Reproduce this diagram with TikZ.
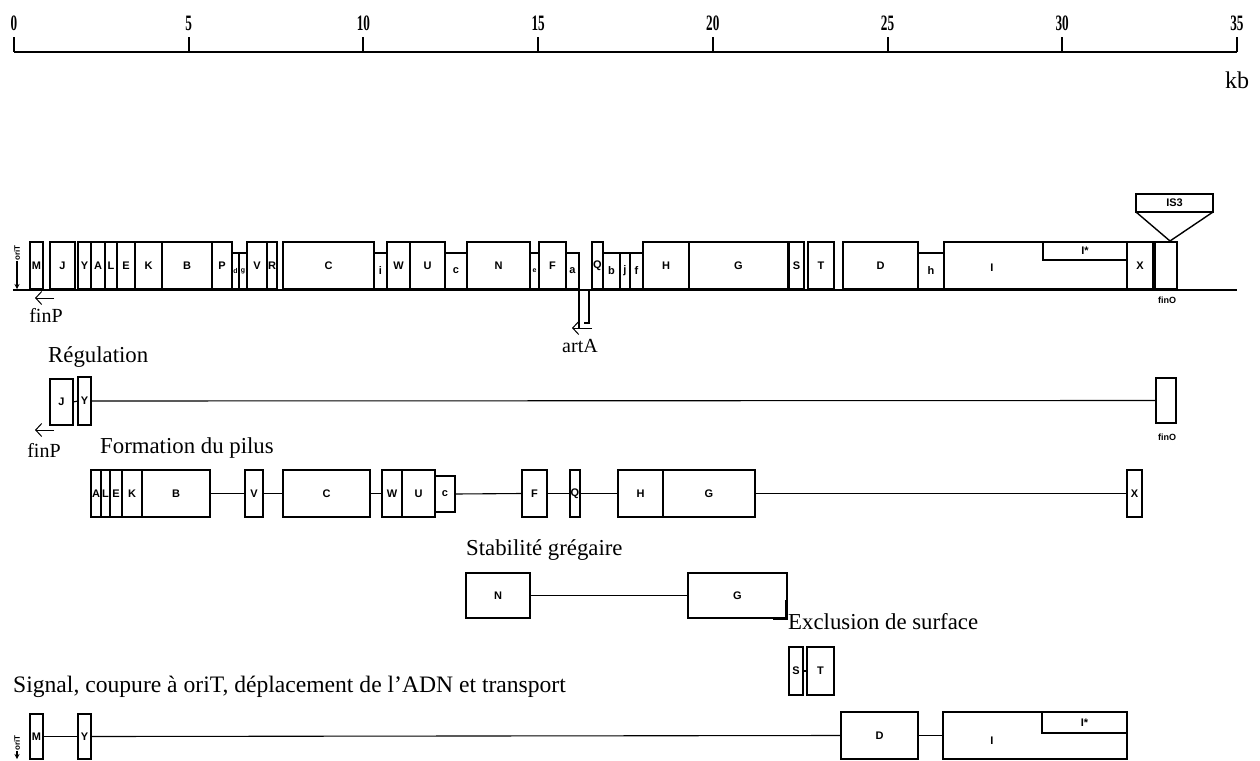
\documentclass[tikz,border=0pt]{standalone}
\usepackage{fontspec}
\setmainfont{Liberation Serif}
\newfontfamily\gfont{Liberation Sans}
\usetikzlibrary{arrows.meta}
\newcommand\gb[7][]{%
  \pgfmathsetmacro\GBw{#4-#2}\pgfmathsetmacro\GBh{#5-#3}%
  \pgfmathsetmacro\GBx{(#2+#4)/2}\pgfmathsetmacro\GBy{(#3+#5)/2}%
  \node[gbox,minimum width=\GBw pt,minimum height=\GBh pt,#1] (#6) at (\GBx,\GBy) {#7};}
\begin{document}
\begin{tikzpicture}[x=1pt,y=-1pt,
  gbox/.style={draw,line width=1.4pt,inner sep=0pt,outer sep=0pt,
    font=\gfont\bfseries\fontsize{11}{12}\selectfont},
  tiny/.style={font=\gfont\bfseries\fontsize{7}{8}\selectfont},
  lab/.style={font=\fontsize{22.8}{26}\selectfont,inner sep=0pt,anchor=west},
  slab/.style={font=\fontsize{20}{24}\selectfont,inner sep=0pt},
  glab/.style={font=\gfont\bfseries\fontsize{11}{12}\selectfont,inner sep=0pt},
  num/.style={font=\bfseries\fontsize{22}{24}\selectfont,inner sep=0pt},
  conn/.style={line width=1.1pt},
  arr/.style={line width=1pt,-{Straight Barb[length=6pt,width=13pt]}},
  oarr/.style={line width=1.2pt,-{Stealth[length=5pt,width=5pt]}},
  orit/.style={font=\gfont\bfseries\fontsize{8}{8}\selectfont,rotate=90,inner sep=0pt}]
\useasboundingbox (0,0) rectangle (1260,760);
% ---------- scale ----------
\coordinate (s0) at (14,52);
\coordinate (s1) at (1237,52);
\draw[line width=2pt] (s0) -- (s1);
\foreach \k in {0,5,...,35}{
  \pgfmathsetmacro\xx{14+\k*34.94}
  \draw[line width=2pt] (\xx,52) -- (\xx,37);
  \node[num] (n\k) at (\xx,23) {\scalebox{0.6}[1]{\k}};
}
\node[font=\fontsize{24}{28}\selectfont,inner sep=0pt] (kb) at (1237,80) {kb};
% ---------- main map ----------
\coordinate (b0) at (13,290);
\coordinate (b1) at (1237,290);
\draw[line width=2pt] (b0) -- (b1);
\node[orit] (orit1) at (17,253) {oriT};
\coordinate (o1) at (17,289);
\draw[oarr] (orit1.west) -- (o1);
\gb{30}{242}{43}{289}{mM}{M}
\gb{50}{242}{75}{289}{mJ}{J}
\gb{78}{242}{91}{289}{mY}{Y}
\gb{91}{242}{105}{289}{mA}{A}
\gb{105}{242}{117}{289}{mL}{L}
\gb{117}{242}{135}{289}{mE}{E}
\gb{135}{242}{162}{289}{mK}{K}
\gb{162}{242}{212}{289}{mB}{B}
\gb{212}{242}{232}{289}{mP}{P}
\gb[tiny]{232}{253}{239}{289}{md}{d}
\gb[tiny]{239}{253}{247}{289}{mg}{g}
\gb{247}{242}{267}{289}{mV}{V}
\gb{267}{242}{277}{289}{mR}{R}
\gb{283}{242}{374}{289}{mC}{C}
\gb{374}{253}{387}{289}{mi}{i}
\gb{387}{242}{410}{289}{mW}{W}
\gb{410}{242}{445}{289}{mU}{U}
\gb{445}{253}{467}{289}{mc}{c}
\gb{467}{242}{530}{289}{mN}{N}
\gb[tiny]{530}{253}{539}{289}{me}{e}
\gb{539}{242}{566}{289}{mF}{F}
\gb{566}{253}{579}{289}{ma}{a}
\gb{592}{242}{603}{289}{mQ}{Q}
\gb{603}{253}{620}{289}{mb}{b}
\gb{620}{253}{630}{289}{mj}{j}
\gb{630}{253}{643}{289}{mf}{f}
\gb{643}{242}{689}{289}{mH}{H}
\gb{689}{242}{788}{289}{mG}{G}
\gb{789}{242}{804}{289}{mS}{S}
\gb{808}{242}{834}{289}{mT}{T}
\gb{843}{242}{918}{289}{mD}{D}
\gb{918}{253}{944}{289}{mh}{h}
\gb{944}{242}{1127}{289}{mI}{}
\gb{1043}{242}{1127}{260}{mIs}{I*}
\node[glab] (mIl) at (992,268) {I};
\gb{1127}{242}{1153}{289}{mX}{X}
\gb{1155}{242}{1177}{289}{mfinO}{}
\draw[line width=2.4pt] (mfinO.north west) -- (mfinO.south west);
\node[glab,font=\gfont\bfseries\fontsize{9}{10}\selectfont] (finOl1) at (1167,300) {finO};
% IS3
\node[gbox,minimum width=77pt,minimum height=18pt] (is3) at (1174.5,203) {IS3};
\coordinate (apex) at (1170,241);
\draw[line width=1.4pt] (is3.south west) -- (apex) -- (is3.south east);
% artA
\coordinate (aa1) at (579,289);
\coordinate (aa2) at (579,328);
\coordinate (ab1) at (589,289);
\coordinate (ab2) at (589,323);
\coordinate (ab3) at (584,323);
\draw[line width=1.3pt] (aa1) -- (aa2);
\draw[line width=1.3pt] (ab1) -- (ab2) -- (ab3);
\coordinate (artS) at (592,328);
\coordinate (artE) at (572,328);
\draw[arr] (artS) -- (artE);
\node[slab] (artA) at (580,346) {artA};
% finP main
\coordinate (fp1s) at (54,298);
\coordinate (fp1e) at (35,298);
\draw[arr] (fp1s) -- (fp1e);
\node[slab] (finP1) at (46,315) {finP};
% ---------- Regulation ----------
\node[lab] (tReg) at (48,357) {Régulation};
\gb{50}{379}{73}{425}{rJ}{J}
\gb{78}{377}{91}{425}{rY}{Y}
\gb{1156}{378}{1176}{423}{rfinO}{}
\draw[conn] (rJ.east) -- (rY.west);
\draw[conn] (rY.east) -- (rfinO.west);
\node[glab,font=\gfont\bfseries\fontsize{9}{10}\selectfont] (finOl2) at (1167,437) {finO};
\coordinate (fp2s) at (54,430);
\coordinate (fp2e) at (35,430);
\draw[arr] (fp2s) -- (fp2e);
\node[slab] (finP2) at (44,450) {finP};
% ---------- Pilus ----------
\node[lab] (tPil) at (100,448) {Formation du pilus};
\gb{91}{470}{101}{517}{pA}{A}
\gb{101}{470}{110}{517}{pL}{L}
\gb{110}{470}{122}{517}{pE}{E}
\gb{122}{470}{142}{517}{pK}{K}
\gb{142}{470}{210}{517}{pB}{B}
\gb{245}{470}{263}{517}{pV}{V}
\gb{283}{470}{370}{517}{pC}{C}
\gb{382}{470}{402}{517}{pW}{W}
\gb{402}{470}{435}{517}{pU}{U}
\gb{435}{476}{455}{512}{pc}{c}
\gb{522}{470}{547}{517}{pF}{F}
\gb{570}{470}{580}{517}{pQ}{Q}
\gb{618}{470}{663}{517}{pH}{H}
\gb{663}{470}{755}{517}{pG}{G}
\gb{1127}{470}{1142}{517}{pX}{X}
\draw[conn] (pB.east) -- (pV.west);
\draw[conn] (pV.east) -- (pC.west);
\draw[conn] (pC.east) -- (pW.west);
\draw[conn] (pc.east) -- (pF.west);
\draw[conn] (pF.east) -- (pQ.west);
\draw[conn] (pQ.east) -- (pH.west);
\draw[conn] (pG.east) -- (pX.west);
% ---------- Stabilite ----------
\node[lab] (tSta) at (466,550) {Stabilité grégaire};
\gb{466}{573}{530}{618}{sN}{N}
\gb{688}{573}{787}{618}{sG}{G}
\draw[conn] (sN.east) -- (sG.west);
\coordinate (k1) at (786,600);
\coordinate (k2) at (786,618);
\coordinate (k3) at (773,618);
\draw[line width=3pt] (k1) -- (k2) -- (k3);
% ---------- Exclusion ----------
\node[lab] (tExc) at (788,622) {Exclusion de surface};
\gb{789}{647}{803}{695}{eS}{S}
\gb{807}{647}{834}{695}{eT}{T}
\draw[conn] (eS.east) -- (eT.west);
% ---------- Signal ----------
\node[lab,font=\fontsize{23.6}{27}\selectfont] (tSig) at (13,687) {Signal, coupure à oriT, déplacement de l’ADN et transport};
\node[orit] (orit2) at (17,743) {oriT};
\coordinate (o2) at (17,759);
\draw[oarr] (orit2.west) -- (o2);
\gb{30}{714}{43}{759}{tM}{M}
\gb{78}{714}{91}{759}{tY}{Y}
\gb{841}{712}{918}{759}{tD}{D}
\gb{943}{712}{1127}{759}{tI}{}
\gb{1042}{712}{1127}{733}{tIs}{I*}
\node[glab] (tIl) at (992,741) {I};
\draw[conn] (tM.east) -- (tY.west);
\draw[conn] (tY.east) -- (tD.west);
\draw[conn] (tD.east) -- (tI.west);
\end{tikzpicture}
\end{document}
